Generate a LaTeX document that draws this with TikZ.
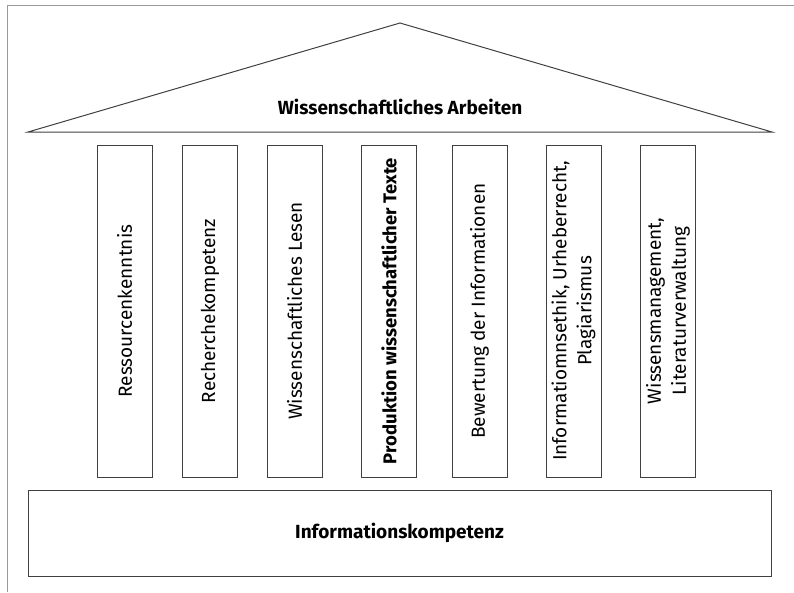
\documentclass[tikz,border=0pt]{standalone}
\usepackage{fontspec}
\setmainfont{Fira Sans}
\begin{document}
\begin{tikzpicture}[x=1pt,y=-1pt,
  ln/.style={draw=black!75,line width=1pt},
  frame/.style={draw=black!40,line width=1pt},
  pillar/.style={ln,rectangle,minimum width=55pt,minimum height=332pt,inner sep=0pt},
  ptext/.style={rotate=90,align=center,font=\fontsize{19}{25}\selectfont,inner sep=0pt},
  btext/.style={font=\bfseries\fontsize{19}{22}\selectfont,inner sep=0pt}]
\useasboundingbox (0,0) rectangle (794,592);
\draw[frame] (7,592) -- (7,5) -- (794,5);
% roof
\coordinate (rl) at (28,132);
\coordinate (ra) at (400,23);
\coordinate (rr) at (772,132);
\draw[ln,line join=miter] (rl) -- (ra) -- (rr) -- cycle;
\node[btext] (roof) at (400,107) {Wissenschaftliches Arbeiten};
% pillars
\node[pillar] (p1) at (124.5,311) {};
\node[pillar] (p2) at (210,311) {};
\node[pillar] (p3) at (294.5,311) {};
\node[pillar] (p4) at (389,311) {};
\node[pillar] (p5) at (479.5,311) {};
\node[pillar] (p6) at (573.5,311) {};
\node[pillar] (p7) at (668,311) {};
\node[ptext] (t1) at (p1) {Ressourcenkenntnis};
\node[ptext] (t2) at (p2) {Recherchekompetenz};
\node[ptext] (t3) at (p3) {Wissenschaftliches Lesen};
\node[ptext,font=\bfseries\fontsize{18.5}{22}\selectfont] (t4) at (p4) {Produktion wissenschaftlicher Texte};
\node[ptext] (t5) at (p5) {Bewertung der Informationen};
\node[ptext] (t6) at (p6) {Informatiomnsethik, Urheberrecht,\\Plagiarismus};
\node[ptext] (t7) at (p7) {Wissensmanagement,\\Literaturverwaltung};
% base
\node[ln,rectangle,minimum width=743pt,minimum height=86pt,inner sep=0pt] (base) at (399.5,533) {};
\node[btext] (bt) at (base) {Informationskompetenz};
\end{tikzpicture}
\end{document}
